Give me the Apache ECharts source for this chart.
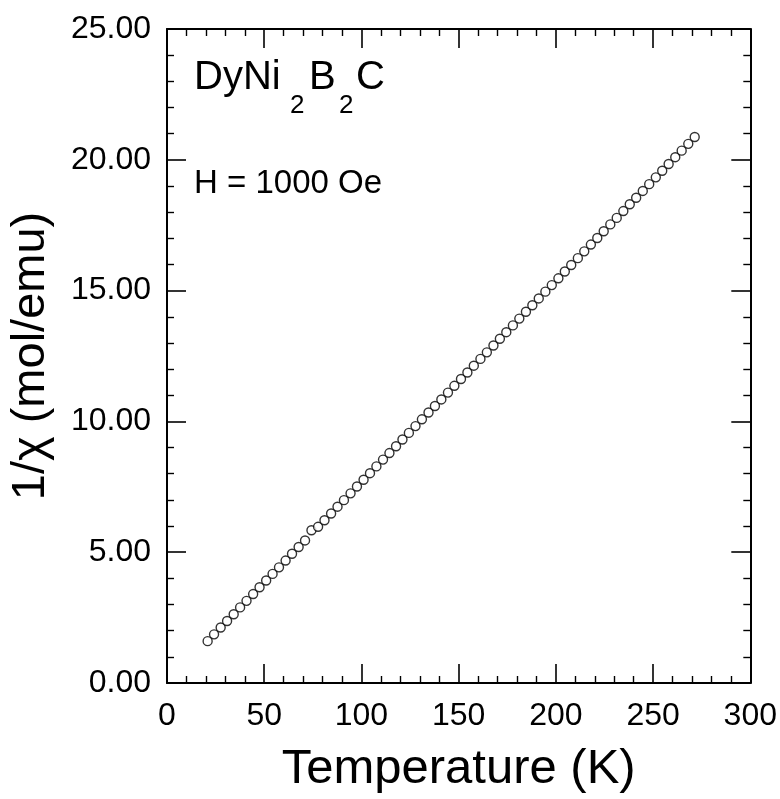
<!DOCTYPE html>
<html>
<head>
<meta charset="utf-8">
<script src="https://cdn.jsdelivr.net/npm/echarts@6/dist/echarts.min.js"></script>
<style>
html,body{margin:0;padding:0;background:#fff;}
#chart{width:780px;height:799px;}
</style>
</head>
<body>
<div id="chart"></div>
<script>
// Temperature (K)
var temperature = [20.9,24.2,27.6,30.9,34.3,37.6,40.9,44.3,47.6,51.0,
  54.3,57.6,61.0,64.3,67.7,71.0,74.3,77.7,81.0,84.4,
  87.7,91.0,94.4,97.7,101.1,104.4,107.7,111.1,114.4,117.8,
  121.1,124.4,127.8,131.1,134.5,137.8,141.1,144.5,147.8,151.2,
  154.5,157.8,161.2,164.5,167.9,171.2,174.5,177.9,181.2,184.6,
  187.9,191.2,194.6,197.9,201.3,204.6,207.9,211.3,214.6,218.0,
  221.3,224.6,228.0,231.3,234.7,238.0,241.3,244.7,248.0,251.4,
  254.7,258.0,261.4,264.7,268.1,271.4];
// 1/chi (mol/emu)
var invChi = [1.60,1.86,2.12,2.37,2.63,2.89,3.14,3.40,3.66,3.92,
  4.17,4.42,4.68,4.94,5.20,5.45,5.84,5.97,6.22,6.48,
  6.74,6.99,7.25,7.51,7.77,8.02,8.28,8.54,8.79,9.05,
  9.31,9.56,9.82,10.08,10.34,10.59,10.84,11.10,11.36,11.62,
  11.87,12.13,12.39,12.64,12.90,13.16,13.41,13.67,13.93,14.19,
  14.44,14.70,14.96,15.21,15.47,15.73,15.98,16.24,16.50,16.76,
  17.01,17.27,17.53,17.78,18.04,18.30,18.55,18.81,19.07,19.33,
  19.58,19.84,20.10,20.35,20.61,20.87];
var xTickLabels = ['0','50','100','150','200','250','300'];
var yTickLabels = ['0.00','5.00','10.00','15.00','20.00','25.00'];
var compoundParts = ['DyNi','2','B','2','C'];
var fieldLabel = 'H = 1000 Oe';
var xTitle = 'Temperature (K)';
var yTitle = '1/\u03c7 (mol/emu)';

var FONT = 'Liberation Sans, Arial, sans-serif';
var points = temperature.map(function (t, i) { return [t, invChi[i]]; });

function axisLine() { return { show: true, onZero: false, lineStyle: { color: '#000', width: 2 } }; }
function majorTick() { return { show: true, inside: true, length: 19, lineStyle: { color: '#000', width: 1.6 } }; }
function minorTick() { return { show: true, splitNumber: 5, length: 7, lineStyle: { color: '#000', width: 1.4 } }; }

var chart = echarts.init(document.getElementById('chart'), null, { renderer: 'canvas' });
chart.setOption({
  backgroundColor: '#fff',
  animation: false,
  grid: { left: 164, right: 25, top: 29, bottom: 111, containLabel: false },
  xAxis: [{
    type: 'value', position: 'bottom', min: 0, max: 300, interval: 50,
    axisLine: axisLine(), axisTick: majorTick(), minorTick: minorTick(),
    splitLine: { show: false }, minorSplitLine: { show: false },
    axisLabel: { color: '#000', fontSize: 32, fontFamily: FONT, margin: 17,
      formatter: function (v) { return xTickLabels[Math.round(v / 50)]; } },
    name: xTitle, nameLocation: 'middle', nameGap: 62,
    nameTextStyle: { color: '#000', fontSize: 49, fontFamily: FONT }
  }, {
    type: 'value', position: 'top', min: 0, max: 300, interval: 50,
    axisLine: axisLine(), axisTick: majorTick(), minorTick: minorTick(),
    splitLine: { show: false }, axisLabel: { show: false }
  }],
  yAxis: [{
    type: 'value', position: 'left', min: 0, max: 25, interval: 5,
    axisLine: axisLine(), axisTick: majorTick(), minorTick: minorTick(),
    splitLine: { show: false }, minorSplitLine: { show: false },
    axisLabel: { color: '#000', fontSize: 32, fontFamily: FONT, margin: 16,
      formatter: function (v) { return yTickLabels[Math.round(v / 5)]; } },
    name: yTitle, nameLocation: 'middle', nameGap: 112,
    nameTextStyle: { color: '#000', fontSize: 47, fontFamily: FONT }
  }, {
    type: 'value', position: 'right', min: 0, max: 25, interval: 5,
    axisLine: axisLine(), axisTick: majorTick(), minorTick: minorTick(),
    splitLine: { show: false }, axisLabel: { show: false }
  }],
  graphic: [
    { type: 'text', x: 194, y: 78, style: { text: compoundParts[0], fontSize: 40, fontFamily: FONT, fill: '#000', verticalAlign: 'middle' } },
    { type: 'text', x: 290, y: 106, style: { text: compoundParts[1], fontSize: 26, fontFamily: FONT, fill: '#000', verticalAlign: 'middle' } },
    { type: 'text', x: 309, y: 78, style: { text: compoundParts[2], fontSize: 40, fontFamily: FONT, fill: '#000', verticalAlign: 'middle' } },
    { type: 'text', x: 339, y: 106, style: { text: compoundParts[3], fontSize: 26, fontFamily: FONT, fill: '#000', verticalAlign: 'middle' } },
    { type: 'text', x: 356, y: 78, style: { text: compoundParts[4], fontSize: 40, fontFamily: FONT, fill: '#000', verticalAlign: 'middle' } },
    { type: 'text', x: 194, y: 184, style: { text: fieldLabel, fontSize: 33, fontFamily: FONT, fill: '#000', verticalAlign: 'middle' } }
  ],
  series: [{
    type: 'scatter', xAxisIndex: 0, yAxisIndex: 0,
    data: points, symbol: 'circle', symbolSize: 9,
    itemStyle: { color: '#fff', borderColor: '#000', borderWidth: 1.4 }
  }]
});
</script>
</body>
</html>
